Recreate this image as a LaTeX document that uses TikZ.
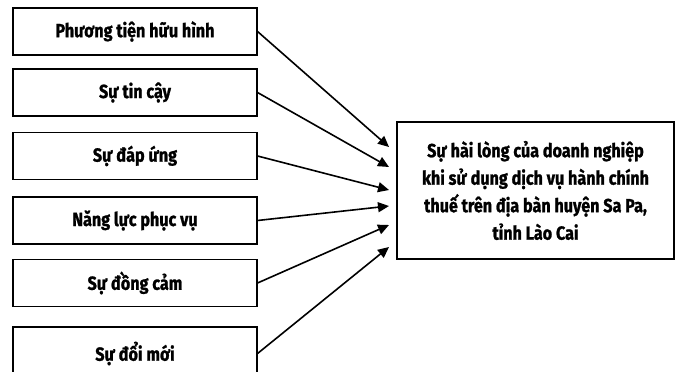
\documentclass[tikz,border=0pt]{standalone}
\usepackage{fontspec}
\setmainfont{Fira Sans}[UprightFont=* Bold, BoldFont=* Bold, FakeStretch=0.85, FakeBold=1.2]
\usetikzlibrary{arrows.meta}
\begin{document}
\begin{tikzpicture}[x=1pt,y=-1pt,
  factor/.style={draw, line width=1.1pt, minimum width=244pt, minimum height=47pt,
    inner sep=0pt, font=\fontsize{19}{22}\selectfont},
  outcome/.style={draw, line width=1.1pt, minimum width=277pt, minimum height=137pt,
    align=center, inner sep=0pt, font=\fontsize{19}{27.5}\selectfont},
  link/.style={line width=1.6pt, -{Triangle[length=11pt,width=10pt]}}]
\useasboundingbox (0,0) rectangle (680,372);
% left column of factors
\node[factor] (f1) at (135,31.5) {Phương tiện hữu hình};
\node[factor] (f2) at (135,92.5) {Sự tin cậy};
\node[factor] (f3) at (135,156) {Sự đáp ứng};
\node[factor] (f4) at (135,220.5) {Năng lực phục vụ};
\node[factor] (f5) at (135,283) {Sự đồng cảm};
\node[factor, minimum height=53pt] (f6) at (135,353.5) {\raisebox{3pt}{Sự đổi mới}};
% dependent variable
\node[outcome] (y) at (535.5,190.5) {Sự hài lòng của doanh nghiệp\\khi sử dụng dịch vụ hành chính\\thuế trên địa bàn huyện Sa Pa,\\tỉnh Lào Cai};
% arrow heads stop short of the outcome box
\coordinate (e1) at (389,147);
\coordinate (e2) at (389,167);
\coordinate (e3) at (389,190);
\coordinate (e4) at (389,206);
\coordinate (e5) at (389,225);
\coordinate (e6) at (389,247);
\draw[link] (f1.east) -- (e1);
\draw[link] (f2.east) -- (e2);
\draw[link] (f3.east) -- (e3);
\draw[link] (f4.east) -- (e4);
\draw[link] (f5.east) -- (e5);
\draw[link] (f6.east) -- (e6);
\end{tikzpicture}
\end{document}
